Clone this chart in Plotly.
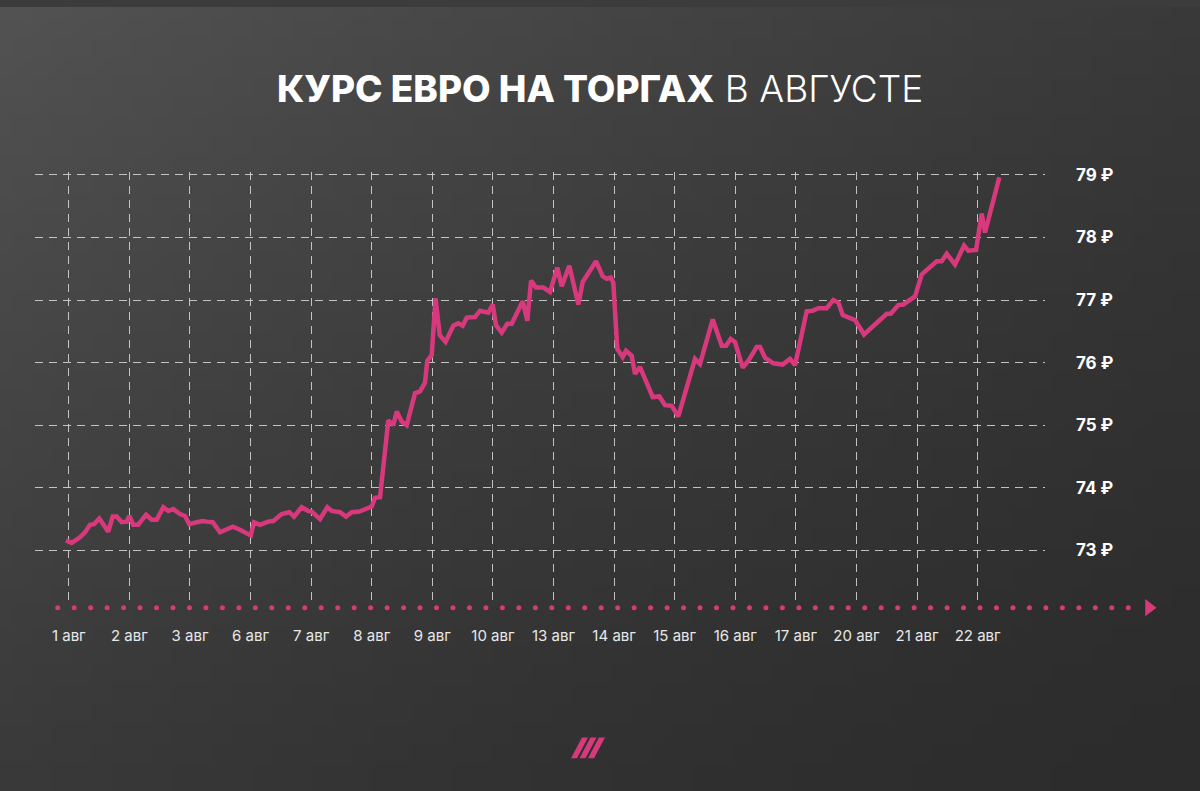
import base64
import struct
import zlib

import plotly.graph_objects as go

W, H = 1200, 791

# ---- data -------------------------------------------------------------
day_labels = ["1 авг", "2 авг", "3 авг", "6 авг", "7 авг", "8 авг", "9 авг",
              "10 авг", "13 авг", "14 авг", "15 авг", "16 авг", "17 авг",
              "20 авг", "21 авг", "22 авг"]
rate_ticks = [73, 74, 75, 76, 77, 78, 79]
rate_tick_labels = [f"{v} ₽" for v in rate_ticks]

# position in trading-day units (0 = 1 авг, 1 = 2 авг, ...)
t = [-0.046, 0.048, 0.185, 0.268, 0.350, 0.416, 0.504, 0.570, 0.652, 0.725,
     0.791, 0.873, 0.956, 0.999, 1.065, 1.147, 1.275, 1.369, 1.451, 1.560,
     1.643, 1.725, 1.836, 1.918, 1.989, 2.111, 2.210, 2.276, 2.375, 2.496,
     2.606, 2.706, 2.826, 3.003, 3.057, 3.156, 3.293, 3.376, 3.514, 3.640,
     3.717, 3.844, 3.953, 4.009, 4.146, 4.267, 4.340, 4.476, 4.576, 4.670,
     4.795, 4.917, 5.000, 5.054, 5.137, 5.274, 5.356, 5.412, 5.495, 5.577,
     5.714, 5.797, 5.879, 5.917, 5.990, 6.053, 6.122, 6.218, 6.346, 6.429,
     6.502, 6.568, 6.705, 6.787, 6.924, 6.997, 7.051, 7.145, 7.238, 7.310,
     7.492, 7.568, 7.629, 7.711, 7.832, 7.943, 8.063, 8.136, 8.261, 8.410,
     8.482, 8.702, 8.812, 8.878, 8.944, 8.987, 9.053, 9.142, 9.197, 9.291,
     9.345, 9.428, 9.638, 9.747, 9.841, 9.952, 10.060, 10.336, 10.418, 10.628,
     10.777, 10.848, 10.925, 10.996, 11.123, 11.216, 11.354, 11.409, 11.491, 11.628,
     11.783, 11.904, 11.986, 12.179, 12.275, 12.371, 12.509, 12.618, 12.701, 12.774,
     12.977, 13.125, 13.500, 13.566, 13.691, 13.774, 13.967, 14.077, 14.325, 14.407,
     14.490, 14.627, 14.776, 14.847, 14.974, 15.068, 15.122, 15.358]

# euro rate, ₽
rate = [73.16, 73.12, 73.21, 73.29, 73.41, 73.42, 73.51, 73.42, 73.30, 73.54,
        73.54, 73.45, 73.46, 73.55, 73.41, 73.41, 73.57, 73.49, 73.49, 73.69,
        73.63, 73.66, 73.58, 73.55, 73.42, 73.45, 73.47, 73.46, 73.45, 73.29,
        73.33, 73.38, 73.33, 73.24, 73.45, 73.41, 73.46, 73.47, 73.58, 73.61,
        73.54, 73.69, 73.63, 73.62, 73.50, 73.69, 73.63, 73.61, 73.54, 73.61,
        73.62, 73.67, 73.70, 73.84, 73.85, 75.08, 75.00, 75.22, 75.06, 75.00,
        75.51, 75.54, 75.68, 76.03, 76.12, 77.03, 76.44, 76.33, 76.59, 76.63,
        76.59, 76.72, 76.73, 76.83, 76.80, 76.93, 76.60, 76.48, 76.62, 76.62,
        76.98, 76.67, 77.31, 77.20, 77.20, 77.13, 77.52, 77.22, 77.55, 76.93,
        77.29, 77.62, 77.38, 77.34, 77.36, 77.28, 76.22, 76.09, 76.19, 76.11,
        75.82, 75.93, 75.45, 75.46, 75.32, 75.31, 75.14, 76.06, 75.98, 76.69,
        76.27, 76.27, 76.38, 76.33, 75.92, 76.03, 76.25, 76.25, 76.08, 75.99,
        75.97, 76.06, 75.96, 76.82, 76.83, 76.87, 76.87, 77.00, 76.96, 76.76,
        76.68, 76.45, 76.78, 76.78, 76.92, 76.93, 77.06, 77.41, 77.62, 77.62,
        77.74, 77.57, 77.87, 77.79, 77.80, 78.38, 78.08, 78.96]

# ---- style ------------------------------------------------------------
PINK = "#d8397d"
GRID = "rgba(210,210,210,0.9)"
FONT = "Inter, 'Open Sans', 'Noto Sans', sans-serif"


def gradient_png(w=60, h=40):
    """Small diagonal background gradient (light top-left -> dark bottom-right)."""
    rows = []
    for j in range(h):
        row = bytearray([0])
        for i in range(w):
            g = 0.5 * (1 - i / (w - 1)) + 0.5 * (1 - j / (h - 1))
            c = int(round(44 + 38 * g ** 1.5))
            row += bytes([c, c, c])
        rows.append(bytes(row))
    raw = b"".join(rows)

    def chunk(tag, data):
        return (struct.pack(">I", len(data)) + tag + data +
                struct.pack(">I", zlib.crc32(tag + data) & 0xFFFFFFFF))

    png = (b"\x89PNG\r\n\x1a\n" +
           chunk(b"IHDR", struct.pack(">IIBBBBB", w, h, 8, 2, 0, 0, 0)) +
           chunk(b"IDAT", zlib.compress(raw, 9)) +
           chunk(b"IEND", b""))
    return "data:image/png;base64," + base64.b64encode(png).decode()


fig = go.Figure()

# main line
fig.add_trace(go.Scatter(
    x=t, y=rate, mode="lines",
    line=dict(color=PINK, width=4.5),
    xaxis="x", yaxis="y", hoverinfo="skip"))

# dotted x-axis with arrow (page pixel space)
n_dots = 66
dot_x = [57.7 + 16.47 * k for k in range(n_dots)]
fig.add_trace(go.Scatter(
    x=dot_x, y=[606] * n_dots, mode="markers",
    marker=dict(color=PINK, size=5, line=dict(width=0)),
    xaxis="x2", yaxis="y2", hoverinfo="skip"))
fig.add_trace(go.Scatter(
    x=[1149], y=[606], mode="markers",
    marker=dict(color=PINK, size=15, symbol="triangle-right", line=dict(width=0)),
    xaxis="x2", yaxis="y2", hoverinfo="skip"))

# logo: three slanted bars
shapes = []
for i in range(3):
    o = 8.5 * i
    path = (f"M {571 + o},758 L {577 + o},758 L {588 + o},737 "
            f"L {582 + o},737 Z")
    shapes.append(dict(type="path", path=path, xref="x2", yref="y2",
                       fillcolor=PINK, line=dict(width=0)))

fig.update_layout(
    width=W, height=H,
    margin=dict(l=0, r=0, t=0, b=0),
    paper_bgcolor="#3c3c3c",
    plot_bgcolor="rgba(0,0,0,0)",
    showlegend=False,
    hovermode=False,
    shapes=shapes,
    images=[dict(source=gradient_png(), xref="paper", yref="paper",
                 x=0, y=1, sizex=1, sizey=1, sizing="stretch",
                 xanchor="left", yanchor="top", layer="below")],
    xaxis=dict(
        domain=[35 / W, 1045 / W], anchor="y",
        range=[-0.5575, 16.112],
        tickmode="array", tickvals=list(range(len(day_labels))),
        ticktext=day_labels,
        showgrid=True, gridcolor=GRID, gridwidth=1, griddash="8px,6px",
        zeroline=False, showline=False, ticks="",
        ticklabelstandoff=20,
        tickfont=dict(family=FONT, size=15, color="#e8e8e8"),
        fixedrange=True,
    ),
    yaxis=dict(
        domain=[1 - 603 / H, 1 - 166 / H], anchor="x", side="right",
        range=[72.133, 79.054],
        tickmode="array", tickvals=rate_ticks, ticktext=rate_tick_labels,
        showgrid=True, gridcolor=GRID, gridwidth=1, griddash="8px,6px",
        zeroline=False, showline=False, ticks="",
        ticklabelstandoff=30,
        tickfont=dict(family=FONT, size=17, color="#ffffff", weight=700),
        fixedrange=True,
    ),
    xaxis2=dict(domain=[0, 1], range=[0, W], visible=False, anchor="y2",
                fixedrange=True),
    yaxis2=dict(domain=[0, 1], range=[H, 0], visible=False, anchor="x2",
                fixedrange=True),
    annotations=[dict(
        xref="paper", yref="paper", x=0.5, y=1 - 82 / H,
        xanchor="center", yanchor="middle", showarrow=False,
        text=("<span style='font-weight:800'>КУРС ЕВРО НА ТОРГАХ</span> "
              "<span style='font-weight:300'>В АВГУСТЕ</span>"),
        font=dict(family=FONT, size=37, color="#ffffff"),
    )],
)

fig.write_html("out.html", config={"displayModeBar": False})
